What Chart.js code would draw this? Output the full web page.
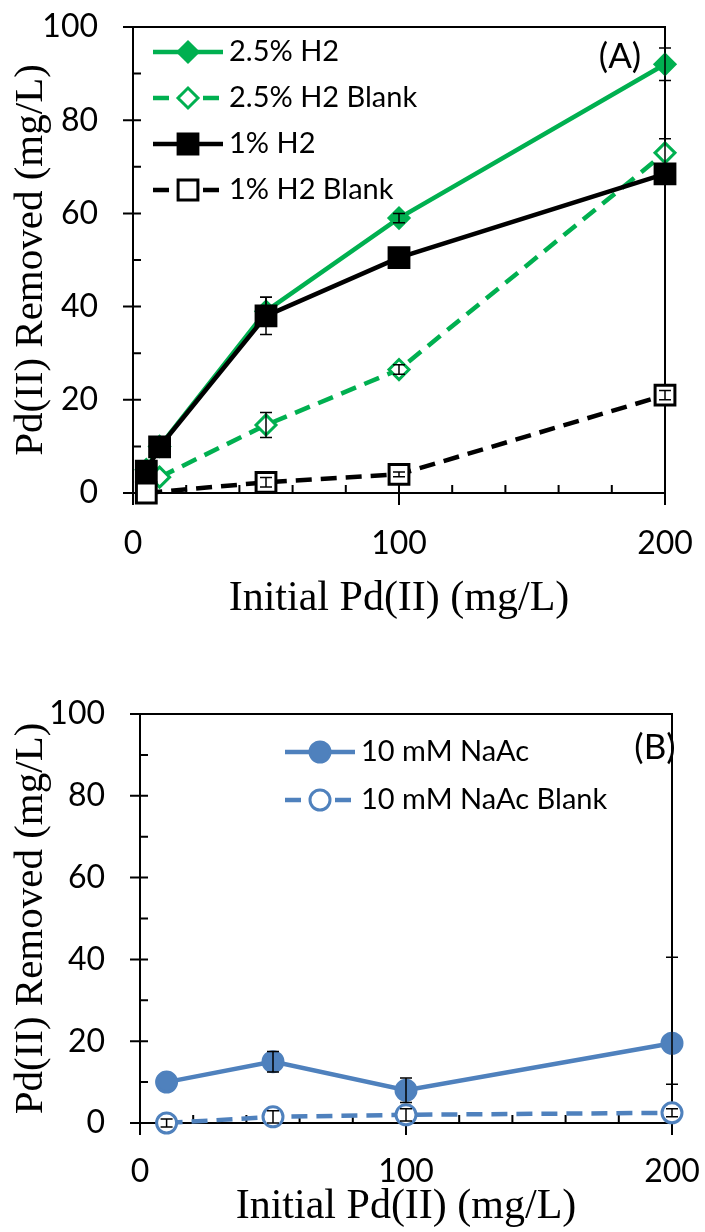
<!DOCTYPE html>
<html>
<head>
<meta charset="utf-8">
<script src="https://cdn.jsdelivr.net/npm/chart.js@4.4.1/dist/chart.umd.min.js"></script>
<style>
  body { margin: 0; background: #fff; width: 705px; height: 1232px; position: relative; overflow: hidden; }
  canvas { position: absolute; left: 0; }
  #chartA { top: 0; }
  #chartB { top: 660px; }
</style>
</head>
<body>
<canvas id="chartA" width="705" height="640"></canvas>
<canvas id="chartB" width="705" height="572"></canvas>
<script>
// panel A data
const xH25 = [5, 10, 50, 100, 200];
const yH25 = [5, 10, 39, 59, 92];
const eH25 = [0, 0, 3, 1, 3.5];
const xH25Blank = [10, 50, 100, 200];
const yH25Blank = [3.4, 14.6, 26.5, 73];
const eH25Blank = [0, 2.7, 1, 3];
const xH1 = [5, 10, 50, 100, 200];
const yH1 = [4.7, 9.9, 38, 50.5, 68.5];
const eH1 = [0, 0, 4, 1, 2];
const xH1Blank = [5, 50, 100, 200];
const yH1Blank = [0, 2.3, 4, 21];
const eH1Blank = [0, 1, 0.5, 1];

// panel B data  (an error can be [minus, plus])
const xNaAc = [10, 50, 100, 200];
const yNaAc = [10, 15, 8, 19.5];
const eNaAc = [0, 2.5, 3, [10, 21]];
const yNaAcBlank = [0, 1.5, 2, 2.5];
const eNaAcBlank = [1, 1.5, 1.5, 1];

const xTicks = [0, 100, 200];
const yTicks = [0, 20, 40, 60, 80, 100];

const GREEN = '#00B050';
const BLUE = '#4F81BD';
const TICK_FONT = 'Lato';
const TITLE_FONT = 'Liberation Serif';

const pts = (xs, ys) => xs.map((x, i) => ({ x: x, y: ys[i] }));

function series(label, xs, ys, errs, color, style, filled, dashed, radius, order) {
  return {
    label: label,
    data: pts(xs, ys),
    errs: errs,
    borderColor: color,
    backgroundColor: color,
    borderWidth: 4.5,
    borderDash: dashed ? [16, 9] : [],
    pointStyle: style,
    pointRadius: radius,
    pointBorderWidth: 3,
    pointBorderColor: color,
    pointBackgroundColor: filled ? color : '#ffffff',
    showLine: true,
    fill: false,
    tension: 0,
    clip: false,
    order: order
  };
}

// top/right frame, crossing major ticks, inner minor ticks
const frameTicks = {
  id: 'frameTicks',
  beforeDatasetsDraw(chart) {
    const { ctx, chartArea: a, scales: { x, y } } = chart;
    ctx.save();
    ctx.strokeStyle = '#000';
    ctx.lineWidth = 2;
    ctx.beginPath();
    ctx.moveTo(a.left, a.top); ctx.lineTo(a.right, a.top); ctx.lineTo(a.right, a.bottom);
    for (let v = 0; v <= 100; v += 10) {
      const py = y.getPixelForValue(v);
      if (v % 20 === 0) { ctx.moveTo(a.left - 10, py); ctx.lineTo(a.left + 8, py); }
      else { ctx.moveTo(a.left, py); ctx.lineTo(a.left + 8, py); }
    }
    for (let v = 0; v <= 200; v += 20) {
      const px = x.getPixelForValue(v);
      if (v % 100 === 0) { ctx.moveTo(px, a.bottom + 12); ctx.lineTo(px, a.bottom - 8); }
      else { ctx.moveTo(px, a.bottom); ctx.lineTo(px, a.bottom - 8); }
    }
    ctx.stroke();
    ctx.restore();
  }
};

const errorBars = {
  id: 'errorBars',
  afterDatasetsDraw(chart) {
    const { ctx, scales: { x, y } } = chart;
    ctx.save();
    ctx.strokeStyle = '#000';
    ctx.lineWidth = 1.5;
    chart.data.datasets.forEach(ds => {
      ds.data.forEach((p, i) => {
        const e = ds.errs[i];
        if (!e) return;
        const lo = Array.isArray(e) ? e[0] : e;
        const hi = Array.isArray(e) ? e[1] : e;
        const px = x.getPixelForValue(p.x);
        const y1 = y.getPixelForValue(p.y + hi);
        const y2 = y.getPixelForValue(p.y - lo);
        ctx.beginPath();
        ctx.moveTo(px, y1); ctx.lineTo(px, y2);
        ctx.moveTo(px - 6, y1); ctx.lineTo(px + 6, y1);
        ctx.moveTo(px - 6, y2); ctx.lineTo(px + 6, y2);
        ctx.stroke();
      });
    });
    ctx.restore();
  }
};

const lineLegend = {
  id: 'lineLegend',
  afterDraw(chart, args, opts) {
    const ctx = chart.ctx;
    ctx.save();
    chart.data.datasets.forEach((ds, i) => {
      const yy = opts.y0 + i * opts.gap;
      ctx.strokeStyle = ds.borderColor;
      ctx.lineWidth = ds.borderWidth;
      ctx.setLineDash(ds.borderDash);
      ctx.beginPath();
      ctx.moveTo(opts.x1, yy); ctx.lineTo(opts.x2, yy);
      ctx.stroke();
      ctx.setLineDash([]);
      ctx.fillStyle = ds.pointBackgroundColor;
      ctx.strokeStyle = ds.pointBorderColor;
      ctx.lineWidth = ds.pointBorderWidth;
      Chart.helpers.drawPoint(ctx, { pointStyle: ds.pointStyle, radius: ds.pointRadius, borderWidth: ds.pointBorderWidth, rotation: 0 }, (opts.x1 + opts.x2) / 2, yy);
      ctx.fillStyle = '#000';
      ctx.font = opts.fontSize + 'px ' + TICK_FONT;
      ctx.textBaseline = 'middle';
      ctx.textAlign = 'left';
      ctx.fillText(ds.label, opts.x2 + 6, yy);
    });
    ctx.font = opts.tagSize + 'px ' + TICK_FONT;
    ctx.textAlign = 'center';
    ctx.fillText(opts.tag, opts.tagX, opts.tagY);
    ctx.restore();
  }
};

function noPad(s) {
  s.paddingLeft = 0; s.paddingRight = 0; s.paddingTop = 0; s.paddingBottom = 0;
}

function makeOptions(c) {
  return {
    responsive: false,
    animation: false,
    layout: { padding: { top: c.top, right: c.right, left: 0, bottom: 0 } },
    plugins: { legend: { display: false }, tooltip: { enabled: false }, lineLegend: c.legend },
    scales: {
      x: {
        type: 'linear', min: 0, max: 200,
        afterFit: s => { s.height = c.xh; noPad(s); },
        afterBuildTicks: s => { s.ticks = xTicks.map(v => ({ value: v })); },
        grid: { display: false, drawTicks: false },
        border: { display: true, color: '#000', width: 2 },
        ticks: { color: '#000', font: { family: TICK_FONT, size: 32 }, padding: c.xpad, maxRotation: 0 },
        title: { display: true, text: 'Initial Pd(II) (mg/L)', color: '#000', font: { family: TITLE_FONT, size: 42 }, padding: { top: 0, bottom: c.xtpad } }
      },
      y: {
        type: 'linear', min: 0, max: 100,
        afterFit: s => { s.width = c.yw; noPad(s); },
        afterBuildTicks: s => { s.ticks = yTicks.map(v => ({ value: v })); },
        grid: { display: false, drawTicks: false },
        border: { display: true, color: '#000', width: 2 },
        ticks: { color: '#000', font: { family: TICK_FONT, size: 32 }, padding: 35 },
        title: { display: true, text: 'Pd(II) Removed (mg/L)', color: '#000', font: { family: TITLE_FONT, size: 41 }, padding: { top: 7, bottom: 0 } }
      }
    }
  };
}

new Chart(document.getElementById('chartA'), {
  type: 'scatter',
  data: {
    datasets: [
      series('2.5% H2', xH25, yH25, eH25, GREEN, 'rectRot', true, false, 10, 3),
      series('2.5% H2 Blank', xH25Blank, yH25Blank, eH25Blank, GREEN, 'rectRot', false, true, 10, 2),
      series('1% H2', xH1, yH1, eH1, '#000', 'rect', true, false, 14, 1),
      series('1% H2 Blank', xH1Blank, yH1Blank, eH1Blank, '#000', 'rect', false, true, 14, 0)
    ]
  },
  options: makeOptions({
    top: 27, right: 40, yw: 133, xh: 147, xpad: 31, xtpad: 16,
    legend: { x1: 153, x2: 223, y0: 52, gap: 46, fontSize: 29, tag: '(A)', tagX: 620, tagY: 57, tagSize: 35 }
  }),
  plugins: [frameTicks, errorBars, lineLegend]
});

new Chart(document.getElementById('chartB'), {
  type: 'scatter',
  data: {
    datasets: [
      series('10 mM NaAc', xNaAc, yNaAc, eNaAc, BLUE, 'circle', true, false, 10, 1),
      series('10 mM NaAc Blank', xNaAc, yNaAcBlank, eNaAcBlank, BLUE, 'circle', false, true, 10, 0)
    ]
  },
  options: makeOptions({
    top: 54, right: 33, yw: 140, xh: 109, xpad: 29, xtpad: 0,
    legend: { x1: 285, x2: 355, y0: 92, gap: 48, fontSize: 29, tag: '(B)', tagX: 655, tagY: 88, tagSize: 35 }
  }),
  plugins: [frameTicks, errorBars, lineLegend]
});
</script>
</body>
</html>
